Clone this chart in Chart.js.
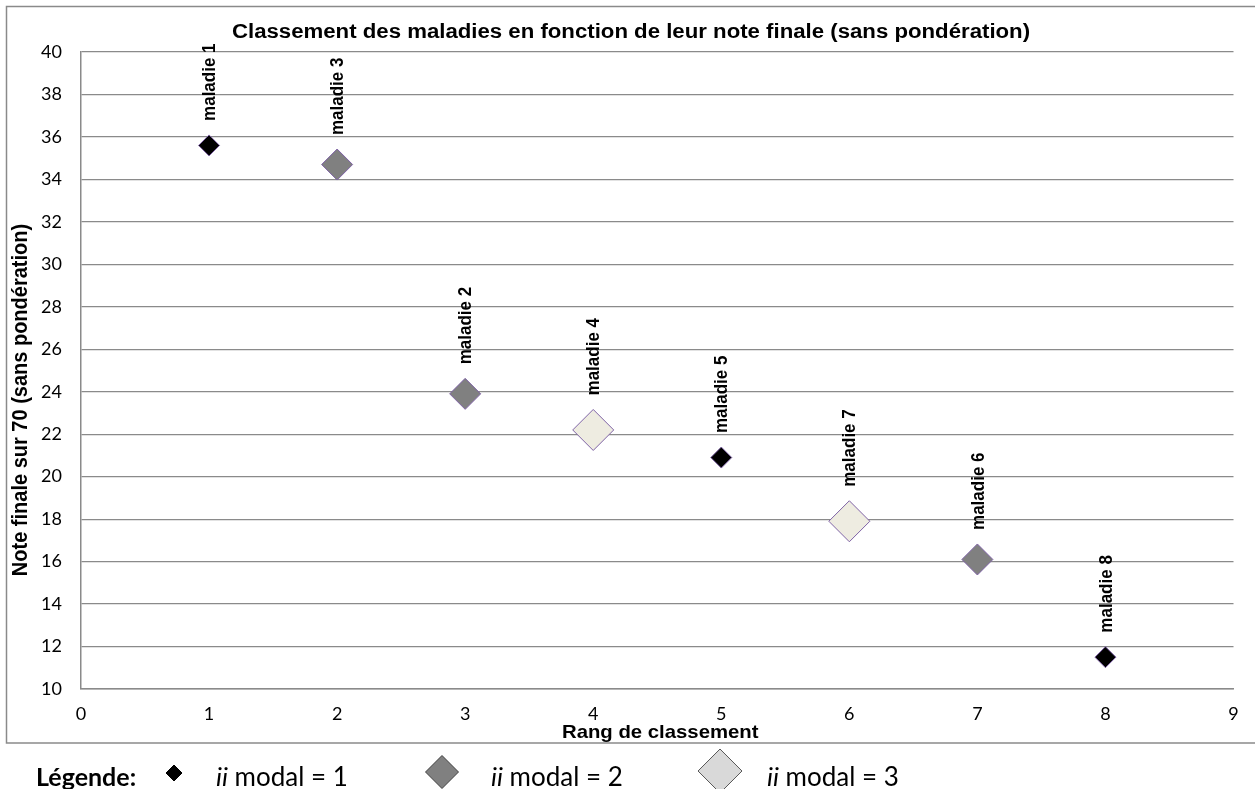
<!DOCTYPE html>
<html lang="fr">
<head>
<meta charset="utf-8">
<title>Classement des maladies</title>
<script src="https://cdn.jsdelivr.net/npm/chart.js@4/dist/chart.umd.min.js"></script>
<style>
  html, body { margin: 0; padding: 0; background: #ffffff; }
  #wrap { width: 1255px; height: 789px; position: relative; }
</style>
</head>
<body>
<div id="wrap"><canvas id="c" width="1255" height="789"></canvas></div>
<script>
// Rang de classement, nom de la maladie, note finale sur 70, ii modal
const ranks  = [1, 2, 3, 4, 5, 6, 7, 8];
const names  = ['maladie 1', 'maladie 3', 'maladie 2', 'maladie 4', 'maladie 5', 'maladie 7', 'maladie 6', 'maladie 8'];
const notes  = [35.6, 34.7, 23.9, 22.2, 20.9, 17.9, 16.1, 11.5];
const modals = [1, 2, 2, 3, 1, 3, 2, 1];

// Graduations des axes
const xTicks = [0, 1, 2, 3, 4, 5, 6, 7, 8, 9];
const yTicks = [10, 12, 14, 16, 18, 20, 22, 24, 26, 28, 30, 32, 34, 36, 38, 40];

const modalLevels = [1, 2, 3];
const modalFill   = { 1: '#000000', 2: '#808080', 3: '#EEECE1' };
const modalRadius = { 1: 10.5, 2: 15.5, 3: 20.5 };
const markerEdge  = '#7F63A6';

const datasets = modalLevels.map(m => {
  const pts = [];
  ranks.forEach((r, i) => {
    if (modals[i] === m) pts.push({ x: r, y: notes[i], name: names[i] });
  });
  return {
    label: 'ii modal = ' + m,
    data: pts,
    pointStyle: 'rectRot',
    pointRadius: modalRadius[m],
    pointHoverRadius: modalRadius[m],
    backgroundColor: modalFill[m],
    borderColor: markerEdge,
    borderWidth: 1,
    showLine: false
  };
});

const GRID = '#8A8A8A';
const ARIAL = '"Liberation Sans", Arial, sans-serif';
const CALIBRI = 'Lato, "Open Sans", sans-serif';

// Texte légèrement élargi horizontalement (sx) autour de son point d'ancrage
function wideText(ctx, text, x, y, sx) {
  ctx.save();
  ctx.translate(x, y);
  ctx.scale(sx, 1);
  ctx.fillText(text, 0, 0);
  ctx.restore();
}

// Titres, étiquettes des points, cadre et légende
const decor = {
  id: 'decor',
  beforeDraw(chart) {
    const ctx = chart.ctx;
    ctx.save();
    ctx.fillStyle = '#ffffff';
    ctx.fillRect(0, 0, chart.width, chart.height);
    ctx.strokeStyle = GRID;
    ctx.lineWidth = 1.5;
    ctx.strokeRect(6.5, 6.5, 1270, 736.5);
    ctx.restore();
  },
  afterDatasetsDraw(chart) {
    const ctx = chart.ctx;
    ctx.save();
    ctx.fillStyle = '#000000';
    ctx.font = 'bold 17px ' + ARIAL;
    ctx.textAlign = 'left';
    ctx.textBaseline = 'middle';
    chart.data.datasets.forEach((ds, di) => {
      const meta = chart.getDatasetMeta(di);
      meta.data.forEach((pt, j) => {
        const start = pt.y - ds.pointRadius - 14;
        ctx.save();
        ctx.translate(pt.x + 1, start);
        ctx.rotate(-Math.PI / 2);
        ctx.scale(1, 1.1);
        ctx.fillText(ds.data[j].name, 0, 0);
        ctx.restore();
      });
    });
    ctx.restore();
  },
  afterDraw(chart) {
    const ctx = chart.ctx;
    const area = chart.chartArea;
    ctx.save();
    ctx.fillStyle = '#000000';

    // Titre
    ctx.font = 'bold 20px ' + ARIAL;
    ctx.textAlign = 'center';
    ctx.textBaseline = 'alphabetic';
    wideText(ctx, 'Classement des maladies en fonction de leur note finale (sans pondération)', 631, 38, 1.11);

    // Titre de l'axe horizontal
    ctx.font = 'bold 19px ' + ARIAL;
    wideText(ctx, 'Rang de classement', (area.left + area.right) / 2 + 3, 738, 1.07);

    // Titre de l'axe vertical
    ctx.save();
    ctx.font = 'bold 20px ' + ARIAL;
    ctx.translate(21, 400);
    ctx.rotate(-Math.PI / 2);
    ctx.scale(1, 1.08);
    ctx.textBaseline = 'middle';
    ctx.fillText('Note finale sur 70 (sans pondération)', 0, 0);
    ctx.restore();

    // Légende
    const baseY = 786;
    ctx.textAlign = 'left';
    ctx.textBaseline = 'alphabetic';
    ctx.font = 'bold 25px ' + CALIBRI;
    ctx.fillText('Légende:', 36, baseY);

    const entries = [
      { cx: 174, cy: 773, r: 8,    fill: '#000000', edge: '#000000', tx: 216, label: ' modal = 1' },
      { cx: 442, cy: 772, r: 16.5, fill: '#808080', edge: '#404040', tx: 491, label: ' modal = 2' },
      { cx: 720, cy: 771, r: 22,   fill: '#D9D9D9', edge: '#595959', tx: 767, label: ' modal = 3' }
    ];
    entries.forEach(e => {
      ctx.beginPath();
      ctx.moveTo(e.cx - e.r, e.cy);
      ctx.lineTo(e.cx, e.cy - e.r);
      ctx.lineTo(e.cx + e.r, e.cy);
      ctx.lineTo(e.cx, e.cy + e.r);
      ctx.closePath();
      ctx.fillStyle = e.fill;
      ctx.fill();
      ctx.strokeStyle = e.edge;
      ctx.lineWidth = 1;
      ctx.stroke();

      ctx.fillStyle = '#000000';
      ctx.font = 'italic 26px ' + CALIBRI;
      ctx.fillText('ii', e.tx, baseY);
      const w = ctx.measureText('ii').width;
      ctx.font = '26px ' + CALIBRI;
      ctx.fillText(e.label, e.tx + w, baseY);
    });
    ctx.restore();
  }
};

new Chart(document.getElementById('c'), {
  type: 'scatter',
  data: { datasets },
  options: {
    responsive: false,
    animation: false,
    layout: { padding: { left: 0, top: 52, right: 19, bottom: 0 } },
    plugins: {
      legend: { display: false },
      title: { display: false },
      tooltip: { enabled: false }
    },
    scales: {
      x: {
        type: 'linear',
        min: xTicks[0],
        max: xTicks[xTicks.length - 1],
        afterBuildTicks(scale) { scale.ticks = xTicks.map(v => ({ value: v })); },
        afterFit(scale) { scale.height = 100; },
        grid: { display: false, drawTicks: false },
        border: { display: true, color: GRID, width: 1.5 },
        ticks: {
          padding: 14,
          color: '#000000',
          font: { family: CALIBRI, size: 18 },
          maxRotation: 0
        }
      },
      y: {
        type: 'linear',
        min: yTicks[0],
        max: yTicks[yTicks.length - 1],
        afterBuildTicks(scale) { scale.ticks = yTicks.map(v => ({ value: v })); },
        afterFit(scale) { scale.width = 81; },
        grid: { display: true, drawTicks: false, color: GRID, lineWidth: 1.2 },
        border: { display: true, color: GRID, width: 1.5 },
        ticks: {
          padding: 19,
          color: '#000000',
          font: { family: CALIBRI, size: 18 }
        }
      }
    }
  },
  plugins: [decor]
});
</script>
</body>
</html>
